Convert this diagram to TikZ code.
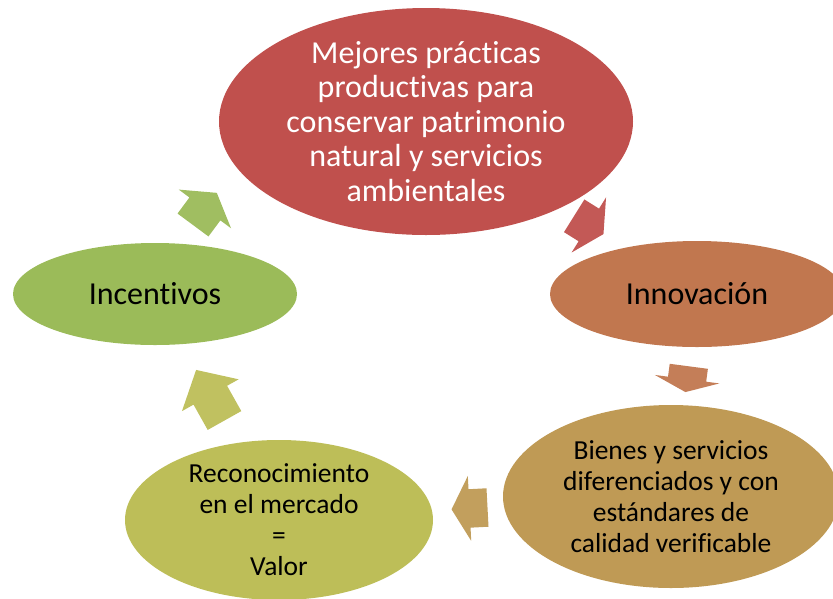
\documentclass[tikz,border=0pt]{standalone}
\usepackage{fontspec}
\setmainfont{Carlito}[Ligatures=NoCommon]
\usetikzlibrary{shapes.geometric}
\definecolor{cA}{HTML}{C0504D}
\definecolor{cB}{HTML}{C1774F}
\definecolor{cC}{HTML}{BF9A55}
\definecolor{cD}{HTML}{BDBE58}
\definecolor{cE}{HTML}{9BBB59}
\begin{document}
\begin{tikzpicture}[x=1pt,y=-1pt,
  bubble/.style={ellipse, inner sep=0pt, align=center},
  bigtext/.style={font=\fontsize{32}{34.5}\selectfont},
  smalltext/.style={font=\fontsize{27.5}{31}\selectfont},
  pics/blockarrow/.style={code={
    \fill[pic actions] (0,-19.25) -- ({#1/2},-19.25) -- ({#1/2},-32.5) -- (#1,0)
      -- ({#1/2},32.5) -- ({#1/2},19.25) -- (0,19.25) -- cycle;}}
]
\useasboundingbox (0,0) rectangle (833,598);
\clip (0,0) rectangle (833,598);

% block arrows of the cycle
\pic[fill=cA!95!white, rotate=-32]   at (574.2,215.8) {blockarrow=34.5};
\pic[fill=cB!95!white, rotate=-97.5] at (688.8,366.3) {blockarrow=26};
\pic[fill=cC!95!white, rotate=-177]  at (487.5,507.5) {blockarrow=36};
\pic[fill=cD!95!white, rotate=119.3] at (224.5,420.5) {blockarrow=58};
\pic[fill=cE!95!white, rotate=53.5]  at (193,225)     {blockarrow=40};

% ellipses
\node[bubble, bigtext, fill=cA, text=white, minimum width=414pt, minimum height=227pt] (mejores) at (426,121.5)
  {Mejores prácticas\\productivas para\\conservar patrimonio\\natural y servicios\\ambientales};
\node[bubble, bigtext, fill=cB, minimum width=294pt, minimum height=106pt] (innov) at (697,294) {Innovación};
\node[bubble, smalltext, fill=cC, minimum width=336pt, minimum height=183pt] (bienes) at (671,496.5)
  {Bienes y servicios\\diferenciados y con\\estándares de\\calidad verificable};
\node[bubble, smalltext, fill=cD, minimum width=308pt, minimum height=160pt] (recon) at (279,520)
  {Reconocimiento\\en el mercado\\=\\Valor};
\node[bubble, bigtext, fill=cE, minimum width=284pt, minimum height=102pt] (incent) at (155,294) {Incentivos};
\end{tikzpicture}
\end{document}
